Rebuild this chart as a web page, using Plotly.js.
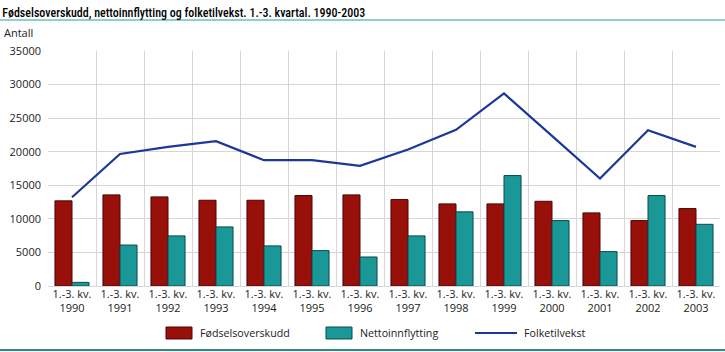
<!DOCTYPE html>
<html>
<head>
<meta charset="utf-8">
<script src="https://cdn.plot.ly/plotly-3.0.1.min.js"></script>
<style>html,body{margin:0;padding:0;background:#fff;}#chart{width:725px;height:352px;}</style>
</head>
<body>
<div id="chart"></div>
<script>
var years = ["1990","1991","1992","1993","1994","1995","1996","1997","1998","1999","2000","2001","2002","2003"];
var categories = years.map(function(y){ return "1.-3. kv.<br>" + y; });
var seriesNames = ["Fødselsoverskudd", "Nettoinnflytting", "Folketilvekst"];
var fodselsoverskudd = [12680, 13570, 13270, 12770, 12770, 13470, 13570, 12870, 12230, 12230, 12620, 10890, 9740, 11530];
var nettoinnflytting = [540, 6100, 7460, 8800, 5970, 5270, 4320, 7460, 11040, 16450, 9740, 5120, 13470, 9190];
var folketilvekst = [13220, 19670, 20730, 21570, 18740, 18740, 17890, 20330, 23270, 28680, 22360, 16010, 23210, 20720];
var yTicks = [0, 5000, 10000, 15000, 20000, 25000, 30000, 35000];

var fontFam = "Open Sans, DejaVu Sans, sans-serif";
var titleFam = "Roboto Condensed, Lato, sans-serif";
var colRed = "#990f0a", colTeal = "#1a9898", colLine = "#1c3896";

var traces = [
  {type:"bar", name:seriesNames[0], x:categories, y:fodselsoverskudd,
   marker:{color:colRed, line:{color:"#4a0604", width:1}}},
  {type:"bar", name:seriesNames[1], x:categories, y:nettoinnflytting,
   marker:{color:colTeal, line:{color:"#0c4a4a", width:1}}},
  {type:"scatter", mode:"lines", name:seriesNames[2], x:categories, y:folketilvekst,
   line:{color:colLine, width:2.2}}
];

var legFont = {family:fontFam, size:10.7, color:"#222"};
var layout = {
  width:725, height:352,
  margin:{l:48, r:5, t:51, b:66},
  paper_bgcolor:"#fff", plot_bgcolor:"#fff",
  font:{family:fontFam, size:11, color:"#222"},
  title:{text:"Fødselsoverskudd, nettoinnflytting og folketilvekst. 1.-3. kvartal. 1990-2003",
         font:{family:titleFam, size:12, weight:500, color:"#000"}, xref:"container", x:0.003, xanchor:"left",
         yref:"container", y:0.963, yanchor:"middle"},
  barmode:"group", bargap:0.29, bargroupgap:0,
  showlegend:false,
  xaxis:{type:"category", tickson:"boundaries", showgrid:true, gridcolor:"#d6d6d6", gridwidth:1,
         ticks:"", showline:false, zeroline:false, tickfont:{size:11, color:"#222"}},
  yaxis:{range:[0,35000], tickvals:yTicks, tickformat:"d", showgrid:true, gridcolor:"#d6d6d6",
         gridwidth:1, zeroline:true, zerolinecolor:"#d6d6d6", showline:false, ticks:"",
         tickfont:{size:11, color:"#222"}, ticklabelstandoff:6},
  shapes:[
    {type:"line", xref:"paper", yref:"paper", x0:-0.0714, x1:1.0074, y0:1.1319, y1:1.1319,
     line:{color:"#8fcfcf", width:2}},
    {type:"line", xref:"paper", yref:"paper", x0:-0.0714, x1:1.0074, y0:-0.2723, y1:-0.2723,
     line:{color:"#2e8a7e", width:2}},
    {type:"rect", xref:"paper", yref:"paper", x0:0.1756, x1:0.2143, y0:-0.2255, y1:-0.1745,
     fillcolor:colRed, line:{color:"#4a0604", width:1}},
    {type:"rect", xref:"paper", yref:"paper", x0:0.4137, x1:0.4524, y0:-0.2255, y1:-0.1745,
     fillcolor:colTeal, line:{color:"#0c4a4a", width:1}},
    {type:"line", xref:"paper", yref:"paper", x0:0.6354, x1:0.6979, y0:-0.2, y1:-0.2,
     line:{color:colLine, width:2.2}}
  ],
  annotations:[
    {text:"Antall", xref:"paper", yref:"paper", x:-0.068, y:1.0766, xanchor:"left", yanchor:"middle",
     showarrow:false, font:{family:fontFam, size:11, color:"#222"}},
    {text:seriesNames[0], xref:"paper", yref:"paper", x:0.2232, y:-0.2, xanchor:"left", yanchor:"middle",
     showarrow:false, font:legFont},
    {text:seriesNames[1], xref:"paper", yref:"paper", x:0.4613, y:-0.2, xanchor:"left", yanchor:"middle",
     showarrow:false, font:legFont},
    {text:seriesNames[2], xref:"paper", yref:"paper", x:0.7053, y:-0.2, xanchor:"left", yanchor:"middle",
     showarrow:false, font:legFont}
  ]
};
Plotly.newPlot("chart", traces, layout, {displayModeBar:false, staticPlot:true});
</script>
</body>
</html>
